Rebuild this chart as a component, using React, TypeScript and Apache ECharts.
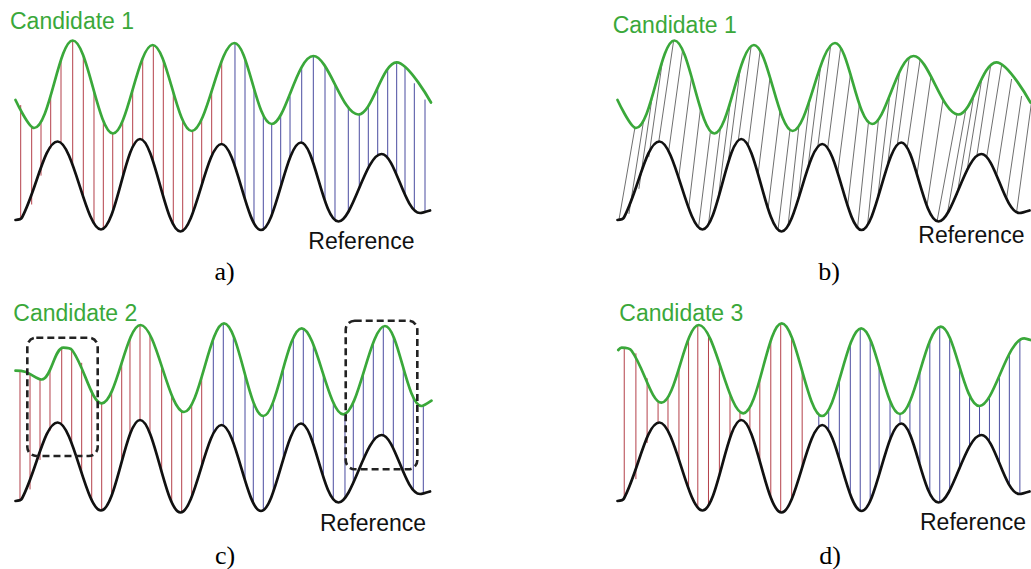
import React, { useEffect, useRef } from "react";
import * as echarts from "echarts";

// ---- data (x: time 0..100 across a panel, y: amplitude 0..100) ----
const referenceX = [0, 1.56, 10.14, 20.55, 29.93, 39.66, 49.52, 59.01, 68.63, 77.64, 87.98, 97.24, 99.64];
const referenceY = [8, 9.25, 47.25, 3.25, 48.5, 2.25, 46, 3, 46.75, 7.25, 41, 11.5, 12.75];

const candidate1X = [0, 4.45, 13.75, 23.44, 32.98, 42.36, 52.6, 61.59, 71.59, 82.4, 91.63, 99.88];
const candidate1Y = [68, 54, 97.75, 51.25, 95.5, 52.5, 96.5, 56, 90, 60.75, 86.85, 66.75];

const candidate2X = [0, 2.28, 6.3, 11.49, 13.58, 20.72, 30.05, 40.5, 50.12, 59.57, 68.8, 78.8, 88.82, 97.64, 100];
const candidate2Y = [73.15, 72.65, 68.75, 84.65, 83.5, 56.85, 96, 52.5, 96.85, 50.5, 94.35, 51.35, 95.5, 55.5, 58.15];

const candidate3X = [0.19, 1.0, 3.41, 10.63, 19.66, 30.41, 39.71, 49.47, 58.94, 68.32, 78.17, 87.55, 98.37, 99.88];
const candidate3Y = [83.5, 84.65, 83.15, 57.15, 96, 51.85, 96.85, 50.5, 94.35, 51.5, 95.15, 55.5, 89.35, 88.5];

// panel a) vertical alignment links
const linksA_red = [1.25, 3.89, 6.13, 8.46, 10.94, 13.75, 16.3, 18.87, 21.11, 23.37, 25.77, 28.17, 30.58, 33.13, 35.53, 37.93, 40.19, 42.6, 44.76, 47.16, 49.57];
const linksA_blue = [52.76, 55.17, 57.33, 59.57, 61.59, 63.75, 65.99, 68.8, 71.59, 74.4, 76.8, 80, 82.64, 84.81, 87.07, 89.47, 91.63, 93.63, 95.87, 98.44];

// panel b) slanted links: reference time -> candidate time
const linksB_ref = [0.36, 2.76, 5.17, 7.57, 9.98, 12.38, 14.78, 17.19, 19.59, 22.0, 24.4, 26.8, 29.21, 31.61, 34.01, 36.42, 38.82, 41.23, 43.63, 46.03, 48.44, 50.84, 53.25, 55.65, 58.05, 60.46, 62.86, 65.26, 67.67, 70.07, 72.48, 74.88, 77.28, 79.69, 82.09, 84.5, 86.9, 89.3, 91.71, 94.11, 96.51];
const linksB_cand = [4.21, 6.37, 8.53, 10.94, 13.58, 15.75, 17.91, 20.07, 22.48, 24.88, 27.28, 29.69, 32.33, 34.5, 36.9, 39.3, 41.71, 43.87, 46.51, 49.16, 51.56, 53.97, 56.37, 58.53, 60.7, 63.1, 65.75, 68.15, 70.55, 73.2, 75.84, 78.73, 82.09, 84.25, 86.18, 88.1, 90.26, 92.91, 95.31, 97.72, 100.12];

// panel c) links
const linksC_red = [1.08, 3.49, 5.89, 8.29, 11.11, 13.51, 15.91, 18.32, 20.72, 23.12, 25.53, 27.52, 29.93, 32.33, 35.14, 37.55, 39.95, 42.36, 44.76];
const linksC_blue = [47.55, 49.95, 52.36, 55.17, 57.16, 59.57, 61.97, 64.38, 66.78, 69.18, 71.59, 73.99, 76.39, 79.2, 81.2, 83.6, 86.01, 88.41, 90.82, 93.22, 95.63, 98.03];

// panel d) links
const linksD_red = [1.63, 4.45, 7.16, 9.81, 12.21, 14.86, 17.19, 19.42, 22.0, 24.64, 27.21, 29.62, 32.02, 34.42, 37.07, 39.47, 42.12, 44.66];
const linksD_blue = [48.68, 51.08, 53.65, 56.3, 58.7, 61.11, 63.27, 65.91, 68.32, 70.72, 73.13, 75.53, 77.93, 80.34, 82.74, 85.14, 87.55, 89.95, 92.36, 94.76, 97.31];

// highlighted regions in panel c) [t0, ampTop, t1, ampBottom]
const boxesC = [
  [2.84, 89.65, 19.76, 30.5],
  [79.38, 98.15, 96.59, 23.85],
];

const candidateNames = ["Candidate 1", "Candidate 1", "Candidate 2", "Candidate 3"];
const referenceName = "Reference";
const captions = ["a)", "b)", "c)", "d)"];

// ---- styling / layout ----
const GREEN = "#3aa83a";
const RED = "#b4404a";
const BLUE = "#4a4ca0";
const PANEL_W = 416;
const PANEL_H = 200;
const panelPos = [
  { left: 15.5, top: 36 },
  { left: 617.5, top: 36 },
  { left: 15.5, top: 317 },
  { left: 617.5, top: 317 },
];

function evalCurve(xs: number[], ys: number[], x: number): number {
  if (x <= xs[0]) return ys[0];
  for (let i = 0; i < xs.length - 1; i++) {
    if (x <= xs[i + 1]) {
      const t = (x - xs[i]) / (xs[i + 1] - xs[i]);
      return ys[i] + ((ys[i + 1] - ys[i]) * (1 - Math.cos(Math.PI * t))) / 2;
    }
  }
  return ys[ys.length - 1];
}

function zip(xs: number[], ys: number[]) {
  return xs.map((x, i) => [x, ys[i]]);
}

function curveSeries(idx: number, xs: number[], ys: number[], color: string) {
  return {
    type: "line",
    xAxisIndex: idx,
    yAxisIndex: idx,
    data: zip(xs, ys),
    smooth: 0.36,
    symbol: "none",
    clip: false,
    silent: true,
    z: 5,
    lineStyle: { color, width: 2.7, cap: "round", join: "round" },
  };
}

function linkSeries(
  idx: number,
  refT: number[],
  candT: number[],
  candX: number[],
  candY: number[],
  color: string,
  width: number
) {
  return {
    type: "custom",
    xAxisIndex: idx,
    yAxisIndex: idx,
    silent: true,
    z: 2,
    clip: false,
    data: refT.map((t, i) => [t, candT[i]]),
    renderItem: (params: any, api: any) => {
      const tr = api.value(0);
      const tc = api.value(1);
      const pTop = api.coord([tc, evalCurve(candX, candY, tc)]);
      const pBot = api.coord([tr, evalCurve(referenceX, referenceY, tr)]);
      return {
        type: "line",
        shape: { x1: pTop[0], y1: pTop[1], x2: pBot[0], y2: pBot[1] },
        style: { stroke: color, lineWidth: width },
      };
    },
  };
}

export default function App() {
  const ref = useRef<HTMLDivElement>(null);
  useEffect(() => {
    if (!ref.current) return;
    const chart = echarts.init(ref.current, undefined, { renderer: "svg" });
    const grids = panelPos.map((p) => ({ left: p.left, top: p.top, width: PANEL_W, height: PANEL_H }));
    const xAxes = panelPos.map((_, i) => ({ type: "value", gridIndex: i, min: 0, max: 100, show: false }));
    const yAxes = panelPos.map((_, i) => ({ type: "value", gridIndex: i, min: 0, max: 100, show: false }));

    const cands = [
      [candidate1X, candidate1Y],
      [candidate1X, candidate1Y],
      [candidate2X, candidate2Y],
      [candidate3X, candidate3Y],
    ];

    const series: any[] = [];
    series.push(linkSeries(0, linksA_red, linksA_red, candidate1X, candidate1Y, RED, 1));
    series.push(linkSeries(0, linksA_blue, linksA_blue, candidate1X, candidate1Y, BLUE, 1));
    series.push(linkSeries(1, linksB_ref, linksB_cand, candidate1X, candidate1Y, "#4a4a4a", 0.8));
    series.push(linkSeries(2, linksC_red, linksC_red, candidate2X, candidate2Y, RED, 1));
    series.push(linkSeries(2, linksC_blue, linksC_blue, candidate2X, candidate2Y, BLUE, 1));
    series.push(linkSeries(3, linksD_red, linksD_red, candidate3X, candidate3Y, RED, 1));
    series.push(linkSeries(3, linksD_blue, linksD_blue, candidate3X, candidate3Y, BLUE, 1));
    for (let i = 0; i < 4; i++) {
      series.push(curveSeries(i, referenceX, referenceY, "#111111"));
      series.push(curveSeries(i, cands[i][0], cands[i][1], GREEN));
    }
    series.push({
      type: "custom",
      xAxisIndex: 2,
      yAxisIndex: 2,
      silent: true,
      z: 8,
      clip: false,
      data: boxesC,
      renderItem: (params: any, api: any) => {
        const p0 = api.coord([api.value(0), api.value(1)]);
        const p1 = api.coord([api.value(2), api.value(3)]);
        return {
          type: "rect",
          shape: { x: p0[0], y: p0[1], width: p1[0] - p0[0], height: p1[1] - p0[1], r: 9 },
          style: { fill: "none", stroke: "#222222", lineWidth: 2.6, lineDash: [7, 4] },
        };
      },
    });

    const sans = '23px "Liberation Sans", Arial, sans-serif';
    const serif = '26px "Liberation Serif", "Times New Roman", serif';
    const candPos = [
      [10, 20.5],
      [612.7, 24.7],
      [13.3, 313.3],
      [619.3, 313],
    ];
    const refPos = [
      [308.3, 240.5],
      [918.3, 234.5],
      [320, 523],
      [920, 521.5],
    ];
    const capPos = [
      [224.5, 271],
      [829, 271],
      [225, 555],
      [830, 555],
    ];
    const graphic: any[] = [];
    for (let i = 0; i < 4; i++) {
      graphic.push({
        type: "text", x: candPos[i][0], y: candPos[i][1], silent: true, z: 10,
        style: { text: candidateNames[i], fill: GREEN, font: sans, align: "left", verticalAlign: "middle" },
      });
      graphic.push({
        type: "text", x: refPos[i][0], y: refPos[i][1], silent: true, z: 10,
        style: { text: referenceName, fill: "#111111", font: sans, align: "left", verticalAlign: "middle" },
      });
      graphic.push({
        type: "text", x: capPos[i][0], y: capPos[i][1], silent: true, z: 10,
        style: { text: captions[i], fill: "#000000", font: serif, align: "center", verticalAlign: "middle" },
      });
    }

    chart.setOption({
      animation: false,
      backgroundColor: "#ffffff",
      grid: grids,
      xAxis: xAxes,
      yAxis: yAxes,
      series,
      graphic,
    });
    return () => chart.dispose();
  }, []);
  return (
    <div
      ref={ref}
      style={{ position: "fixed", left: 0, top: 0, width: 1031, height: 569, overflow: "hidden", background: "#fff" }}
    />
  );
}
